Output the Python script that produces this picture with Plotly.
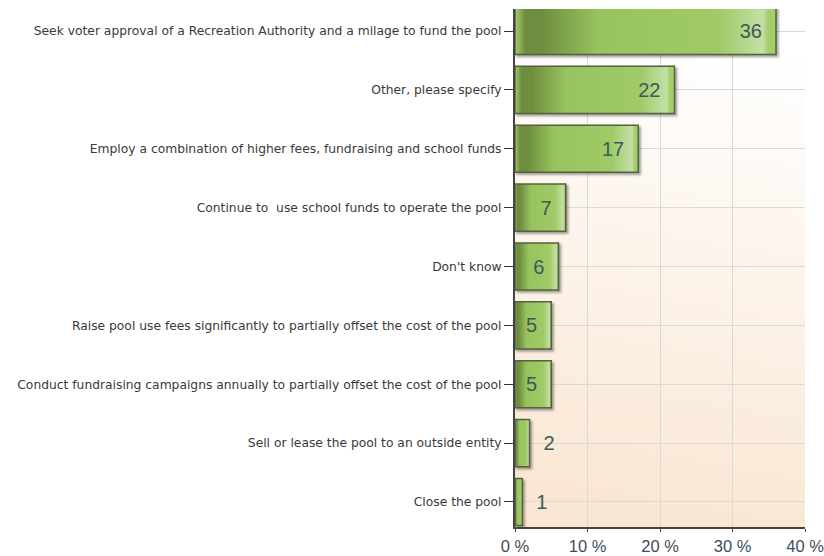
import plotly.graph_objects as go
import base64

categories = [
    "Seek voter approval of a Recreation Authority and a milage to fund the pool",
    "Other, please specify",
    "Employ a combination of higher fees, fundraising and school funds",
    "Continue to  use school funds to operate the pool",
    "Don't know",
    "Raise pool use fees significantly to partially offset the cost of the pool",
    "Conduct fundraising campaigns annually to partially offset the cost of the pool",
    "Sell or lease the pool to an outside entity",
    "Close the pool",
]
values = [36, 22, 17, 7, 6, 5, 5, 2, 1]
x_ticks = [0, 10, 20, 30, 40]
x_tick_labels = ["0 %", "10 %", "20 %", "30 %", "40 %"]

inside = [v >= 5 for v in values]
text_pos = ["inside" if i else "outside" for i in inside]
bar_text = [f"{v}\u00a0\u00a0" if i else f"\u00a0\u00a0{v}" for v, i in zip(values, inside)]

svg = """<svg xmlns='http://www.w3.org/2000/svg' width='100' height='100' preserveAspectRatio='none'>
<defs><linearGradient id='g' x1='0.1' y1='0' x2='0' y2='1'>
<stop offset='0' stop-color='#ffffff'/><stop offset='1' stop-color='#f9e5d0'/></linearGradient></defs>
<rect width='100' height='100' fill='url(#g)'/></svg>"""
bg = "data:image/svg+xml;base64," + base64.b64encode(svg.encode()).decode()

fig = go.Figure()
fig.add_trace(go.Bar(
    y=categories, x=values, orientation="h",
    width=0.8,
    marker=dict(color="#98c763", line=dict(color="#55603f", width=1.5)),
    text=bar_text,
    textposition=text_pos,
    insidetextanchor="end",
    textfont=dict(family="Liberation Sans, Arial", size=20, color="#3d5858"),
    cliponaxis=False,
    hoverinfo="skip",
))

fig.update_layout(
    width=824, height=556,
    margin=dict(l=515, r=19, t=9, b=29, autoexpand=False),
    paper_bgcolor="white",
    plot_bgcolor="rgba(0,0,0,0)",
    showlegend=False,
    images=[dict(source=bg, xref="paper", yref="paper", x=0, y=1, sizex=1, sizey=1,
                 sizing="stretch", layer="below")],
    xaxis=dict(
        range=[0, 40], tickvals=x_ticks, ticktext=x_tick_labels,
        showgrid=True, gridcolor="#d9d9d9", gridwidth=1,
        showline=True, linecolor="#444444", linewidth=1.5,
        ticks="outside", ticklen=3, tickcolor="#444444",
        tickfont=dict(family="Liberation Sans, Arial", size=16.5, color="#3a4e5e"),
        ticklabeloverflow="allow",
        zeroline=False, fixedrange=True, automargin=False,
    ),
    yaxis=dict(
        categoryorder="array", categoryarray=categories[::-1],
        range=[-0.425, 8.374],
        showgrid=True, gridcolor="#d9d9d9", gridwidth=1,
        showline=True, linecolor="#444444", linewidth=2,
        ticks="outside", ticklen=9, tickcolor="#333333",
        tickfont=dict(family="DejaVu Sans", size=12.3, color="#3a3a3a"),
        fixedrange=True, automargin=False,
    ),
)

post = """
document.body.style.margin='0';
var gd=document.getElementById('{plot_id}');
function styleBars(){
  var svg=gd.querySelector('svg.main-svg'); if(!svg) return;
  var ns='http://www.w3.org/2000/svg';
  var defs=svg.querySelector('defs');
  if(!document.getElementById('bargrad')){
    var lg=document.createElementNS(ns,'linearGradient');
    lg.setAttribute('id','bargrad');
    lg.setAttribute('x1','0');lg.setAttribute('y1','0');lg.setAttribute('x2','1');lg.setAttribute('y2','0');
    var st=[[0,'#a3cf6a'],[0.04,'#6e8d3f'],[0.1,'#6e8d3f'],[0.32,'#98c45f'],[0.78,'#9fca66'],[0.95,'#c4dfa6'],[0.97,'#a3cf6a'],[1,'#a3cf6a']];
    st.forEach(function(s){var e=document.createElementNS(ns,'stop');e.setAttribute('offset',s[0]);e.setAttribute('stop-color',s[1]);lg.appendChild(e);});
    defs.appendChild(lg);
  }
  gd.querySelectorAll('.trace.bars .point path').forEach(function(p){
    p.style.fill='url(#bargrad)';
    p.style.filter='drop-shadow(2px 2px 1px rgba(0,0,0,0.35))';
  });
}
styleBars();
gd.on && gd.on('plotly_afterplot', styleBars);
setTimeout(styleBars, 0);
"""

fig.write_html("out.html", post_script=post, config={"displayModeBar": False})
